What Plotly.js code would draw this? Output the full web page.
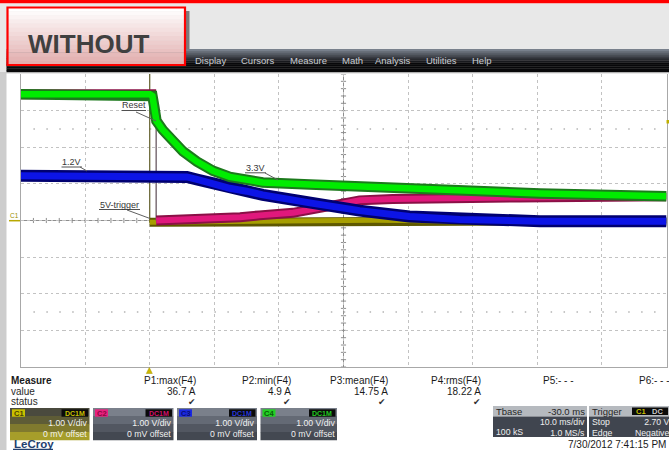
<!DOCTYPE html>
<html><head><meta charset="utf-8">
<script src="https://cdn.plot.ly/plotly-3.0.1.min.js"></script>
<style>html,body{margin:0;padding:0;background:#fff;}#chart{width:669px;height:450px;}</style>
</head><body><div id="chart"></div>
<script>
const timeRangeMs = [-20, 80];   // 10.0 ms/div, 10 divisions
const voltRange = [-4, 4];       // 1.00 V/div, 8 divisions

// C4 (green) 3.3V rail
const c4Time = [-20, 0, 0.42, 0.73, 1.04, 2.04, 3.57, 5.14, 7.3, 9.78, 12.4, 15.0, 17.5, 24.8, 32.5, 40.2, 48.0, 60.4, 80];
const c4Volt = [3.45, 3.45, 3.40, 3.08, 2.72, 2.47, 2.16, 1.89, 1.61, 1.36, 1.19, 1.10, 1.04, 0.98, 0.92, 0.88, 0.82, 0.74, 0.66];
// C3 (blue) 1.2V rail
const c3Time = [-20, 4.67, 5.75, 7.3, 9.78, 12.4, 15.0, 17.5, 24.8, 32.5, 40.2, 48.0, 60.4, 80];
const c3Volt = [1.22, 1.22, 1.19, 1.12, 0.99, 0.88, 0.80, 0.70, 0.48, 0.27, 0.11, 0.03, -0.02, -0.02];
// C2 (magenta) Reset: high level, falling edge, then low
const c2HighTime = [-20, 1.0];
const c2HighVolt = [3.45, 3.45];
const c2Time = [1.0, 7.8, 14.0, 17.0, 22.2, 27.4, 32.5, 37.6, 43.3, 49.5, 57.2, 80];
const c2Volt = [0.0, 0.03, 0.09, 0.14, 0.21, 0.38, 0.55, 0.59, 0.61, 0.61, 0.63, 0.66];
// C1 (olive) 5V trigger: high (off screen), falling edge, then low
const c1HighTime = [-20, 0];
const c1HighVolt = [5.0, 5.0];
const c1Time = [0, 20, 35, 50, 80];
const c1Volt = [-0.05, -0.03, 0.01, -0.02, -0.03];

const traceLabels = ['Reset', '1.2V', '3.3V', '5V-trigger'];
const menuItems = ['Display', 'Cursors', 'Measure', 'Math', 'Analysis', 'Utilities', 'Help'];
const measureNames = ['P1:max(F4)', 'P2:min(F4)', 'P3:mean(F4)', 'P4:rms(F4)', 'P5:- - -', 'P6:- - -'];
const measureValues = ['36.7 A', '4.9 A', '14.75 A', '18.22 A', '', ''];
const measureStatus = [true, true, true, true, false, false];
const channelNames = ['C1', 'C2', 'C3', 'C4'];
const channelCoupling = ['DC1M', 'DC1M', 'DC1M', 'DC1M'];
const channelScale = ['1.00 V/div', '1.00 V/div', '1.00 V/div', '1.00 V/div'];
const channelOffset = ['0 mV offset', '0 mV offset', '0 mV offset', '0 mV offset'];
const tbaseHeader = ['Tbase', '-30.0 ms'];
const tbaseLeft = ['', '100 kS'];
const tbaseRight = ['10.0 ms/div', '1.0 MS/s'];
const triggerHeader = ['Trigger', ''];
const triggerLeft = ['Stop', 'Edge'];
const triggerRight = ['2.70 V', 'Negative'];
const timestamp = '7/30/2012 7:41:15 PM';

// ---------------- layout helpers ----------------
const W = 669, H = 450;
const X = px => px / W;
const Y = py => 1 - py / H;
const FONT = 'Liberation Sans, Arial, sans-serif';
const shapes = [];
const annotations = [];
function rect(x0, y0, x1, y1, fill, lc, lw) {
  shapes.push({type: 'rect', xref: 'paper', yref: 'paper', x0: X(x0), x1: X(x1), y0: Y(y1), y1: Y(y0),
    fillcolor: fill || 'rgba(0,0,0,0)', line: {color: lc || 'rgba(0,0,0,0)', width: lw || 0}});
}
function seg(x0, y0, x1, y1, color, w) {
  shapes.push({type: 'line', xref: 'paper', yref: 'paper', x0: X(x0), y0: Y(y0), x1: X(x1), y1: Y(y1),
    line: {color: color, width: w || 1}});
}
function dseg(x0, y0, x1, y1, color, w, dash) {
  shapes.push({type: 'line', xref: 'x', yref: 'y', x0: x0, y0: y0, x1: x1, y1: y1, layer: 'below',
    line: {color: color, width: w || 1, dash: dash || 'solid'}});
}
function txt(text, px, py, size, color, xa, extra) {
  annotations.push(Object.assign({text: text, xref: 'paper', yref: 'paper', x: X(px), y: Y(py),
    showarrow: false, xanchor: xa || 'left', yanchor: 'middle', borderpad: 0,
    align: xa === 'right' ? 'right' : (xa === 'center' ? 'center' : 'left'),
    font: {family: FONT, size: size, color: color}}, extra || {}));
}
function lerpColor(a, b, f) {
  return 'rgb(' + a.map((v, i) => Math.round(v + (b[i] - v) * f)).join(',') + ')';
}

// ---------------- page frame ----------------
rect(0, 0, 669, 3.5, '#ff0000');
rect(0, 3.5, 669, 74, '#e8e8e8');
rect(0, 72, 6.5, 450, '#cdcdcd');
const mbTop = [120, 128, 140], mbBot = [8, 8, 10];
for (let i = 0; i < 12; i++) {
  const y0 = 49 + i * 23 / 12;
  rect(6.5, y0, 669, y0 + 23 / 12 + 0.3, lerpColor(mbTop, mbBot, Math.min(1, i / 7)));
}
const menuX = [194, 240, 289, 341, 374, 425, 471];
menuItems.forEach((m, i) => txt(m, menuX[i], 61, 9.5, '#c9cdd2', 'left'));
rect(185, 11, 189.5, 49, '#7a7a7a');
const bxTop = [255, 255, 255], bxBot = [226, 174, 174];
for (let i = 0; i < 14; i++) {
  const y0 = 7 + i * 58 / 14;
  rect(7, y0, 185, y0 + 58 / 14 + 0.3, lerpColor(bxTop, bxBot, i / 13));
}
rect(7.5, 7.5, 185, 65, null, '#ff0000', 2.2);
txt('<b>WITHOUT</b>', 88, 44, 26, '#404040', 'center');

// ---------------- plot decorations (data coords) ----------------
const midT = (timeRangeMs[0] + timeRangeMs[1]) / 2;
dseg(midT, voltRange[0], midT, voltRange[1], '#8e8e8e', 1);
dseg(timeRangeMs[0], 0, timeRangeMs[1], 0, '#8e8e8e', 1);
for (let k = 0; k <= 50; k++) {
  const t = timeRangeMs[0] + k * 2;
  dseg(t, -0.07, t, 0.07, '#8e8e8e', 1);
}
for (let k = 0; k <= 40; k++) {
  const v = voltRange[0] + k * 0.2;
  dseg(midT - 0.4, v, midT + 0.4, v, '#8e8e8e', 1);
}
dseg(timeRangeMs[0] + 2, 2.5, timeRangeMs[1], 2.5, '#b4b4b4', 1.5, '1.5px,11.43px');
dseg(timeRangeMs[0] + 2, -2.5, timeRangeMs[1], -2.5, '#b4b4b4', 1.5, '1.5px,11.43px');

const labelPos = [[134, 105], [71.5, 162], [255.5, 168], [119.5, 205]];
const labelUnder = [[121.5, 146, 110.5], [61.5, 82, 167], [245, 266, 172.8], [99, 140, 209.5]];
const labelLead = [[136, 112, 156, 121], [80, 167, 87, 171], [265, 173, 278, 180], [127, 210, 150, 218.5]];
traceLabels.forEach((l, i) => {
  txt(l, labelPos[i][0], labelPos[i][1], 9, '#383838', 'center');
  seg(labelUnder[i][0], labelUnder[i][2], labelUnder[i][1], labelUnder[i][2], '#505050', 1);
  seg(labelLead[i][0], labelLead[i][1], labelLead[i][2], labelLead[i][3], '#606060', 1);
});
seg(9, 220.7, 20, 220.7, '#b8a800', 1.5);
txt('C1', 9, 215.5, 6.5, '#9a9000', 'left');
shapes.push({type: 'path', xref: 'paper', yref: 'paper',
  path: 'M ' + X(146.3) + ' ' + Y(373.5) + ' L ' + X(149.3) + ' ' + Y(367.5) + ' L ' + X(152.3) + ' ' + Y(373.5) + ' Z',
  fillcolor: '#cdb800', line: {color: '#a89600', width: 0.5}});
rect(666.5, 120, 669, 123.5, '#c0b000');

// ---------------- measure table ----------------
txt('<b>Measure</b>', 9.5, 380, 10, '#1a1a1a', 'left');
txt('value', 9.5, 391, 10, '#2a2a2a', 'left');
txt('status', 9.5, 401.5, 10, '#2a2a2a', 'left');
const measRight = [196.5, 292, 389, 481.5];
const measLeft = [542, 638];
const checkX = [191.5, 286.5, 382, 477];
measureNames.forEach((m, i) => {
  if (i < 4) txt(m, measRight[i], 380, 10, '#1a1a1a', 'right');
  else txt(m, measLeft[i - 4], 380, 10, '#1a1a1a', 'left');
  if (measureValues[i]) txt(measureValues[i], measRight[i], 391, 10, '#1a1a1a', 'right');
  if (measureStatus[i]) txt('✔', checkX[i], 401.5, 9, '#303030', 'center', {font: {family: 'DejaVu Sans', size: 9, color: '#303030'}});
});

// channel boxes
const boxX = [[10, 89.5], [93, 173.5], [177, 257], [260.5, 337]];
const tagFill = ['#c8c000', '#e8207e', '#1a28e0', '#22d022'];
const tagText = ['#4a4400', '#8a0840', '#0a1070', '#0a5a0a'];
const dcText = ['#c8c000', '#d0106a', '#2838d8', '#22c822'];
const grayStrips = ['#7a808b', '#646a75', '#525761', '#434851'];
const oliveStrips = ['#4a4a3e', '#5e5c36', '#807a2e', '#a69e2a'];
boxX.forEach((b, i) => {
  const strips = i === 0 ? oliveStrips : grayStrips;
  const ys = [408, 416, 424, 432, 440];
  strips.forEach((c, k) => rect(b[0], ys[k], b[1], ys[k + 1] + 0.3, c));
  rect(b[0] + 2, 409.3, b[0] + 15, 416.7, tagFill[i]);
  txt('<b>' + channelNames[i] + '</b>', b[0] + 8.5, 413.2, 7.5, tagText[i], 'center');
  rect(b[1] - 28, 409.3, b[1] - 1.5, 416.7, '#0a0a0a');
  txt('<b>' + channelCoupling[i] + '</b>', b[1] - 14.7, 413.2, 7, dcText[i], 'center');
  txt(channelScale[i] + '<br>' + channelOffset[i], b[1] - 1.5, 428.8, 8.7, '#f2f2f2', 'right');
});

// timebase / trigger boxes
function infoBox(x0, x1, header, left, right) {
  rect(x0, 406, x1, 416.5, '#b6babf');
  rect(x0, 416.5, x1, 437, '#40454f');
  if (header[0]) txt(header[0], x0 + 1.5, 411.3, 9.5, '#262626', 'left');
  if (header[1]) txt(header[1], x1 - 1.5, 411.3, 9.5, '#262626', 'right');
  if (left[0]) txt(left.join('<br>'), x0 + 1.5, 427.4, 8.7, '#eeeeee', 'left');
  else txt(left[1], x0 + 1.5, 432.2, 8.7, '#eeeeee', 'left');
  txt(right.join('<br>'), x1 - 1.5, 427.4, 8.7, '#eeeeee', 'right');
}
infoBox(493, 587, tbaseHeader, tbaseLeft, tbaseRight);
infoBox(589, 672, triggerHeader, triggerLeft, triggerRight);
rect(632, 407.5, 668, 415, '#0a0a0a');
txt('<b>C1</b>', 641, 411.3, 7.5, '#c8c000', 'center');
txt('<b>DC</b>', 657, 411.3, 7.5, '#c8c8c8', 'center');
txt(timestamp, 667, 444, 10, '#1a1a1a', 'right');
txt('<b>LeCroy</b>', 12.5, 444, 11.5, '#24406e', 'left');
seg(13, 449.3, 53, 449.3, '#24406e', 1.2);

// ---------------- traces ----------------
function band(t, v, edge, core, wEdge, wCore) {
  return [
    {x: t, y: v, type: 'scatter', mode: 'lines', line: {color: edge, width: wEdge}, hoverinfo: 'skip'},
    {x: t, y: v, type: 'scatter', mode: 'lines', line: {color: core, width: wCore}, hoverinfo: 'skip'}
  ];
}
function edgeLine(t, v, color) {
  return {x: t, y: v, type: 'scatter', mode: 'lines', line: {color: color, width: 1.3}, hoverinfo: 'skip'};
}
const traces = [].concat(
  [edgeLine([c1HighTime[1], c1Time[0]], [c1HighVolt[1], c1Volt[0]], '#6e6a3a')],
  band(c1HighTime, c1HighVolt, '#5e5800', '#a69e00', 9, 5),
  band(c1Time, c1Volt, '#5e5800', '#a69e00', 9, 5),
  [edgeLine([c2HighTime[1], c2Time[0]], [c2HighVolt[1], c2Volt[0]], '#6a5a62')],
  band(c2HighTime, c2HighVolt, '#8a1046', '#e0187c', 10, 6),
  band(c2Time, c2Volt, '#8a1046', '#e0187c', 10, 6),
  band(c3Time, c3Volt, '#000070', '#0c14e6', 12, 7),
  band(c4Time, c4Volt, '#1c7a1c', '#00ec00', 10.5, 6.5)
);

const layout = {
  width: W, height: H,
  margin: {l: 0, r: 0, t: 0, b: 0},
  paper_bgcolor: '#ffffff', plot_bgcolor: '#ffffff',
  showlegend: false, hovermode: false,
  font: {family: FONT},
  xaxis: {domain: [20.5 / W, 666.5 / W], range: timeRangeMs, dtick: 10, tick0: 0,
    showgrid: true, gridcolor: '#c2c2c2', griddash: 'dot', gridwidth: 1,
    showticklabels: false, ticks: '', zeroline: false,
    showline: true, mirror: true, linecolor: '#a8a8a8', linewidth: 1, fixedrange: true},
  yaxis: {domain: [Y(367), Y(74)], range: voltRange, dtick: 1, tick0: 0,
    showgrid: true, gridcolor: '#c2c2c2', griddash: 'dot', gridwidth: 1,
    showticklabels: false, ticks: '', zeroline: false,
    showline: true, mirror: true, linecolor: '#a8a8a8', linewidth: 1, fixedrange: true},
  shapes: shapes,
  annotations: annotations
};
Plotly.newPlot('chart', traces, layout, {staticPlot: true, displayModeBar: false});
</script></body></html>
